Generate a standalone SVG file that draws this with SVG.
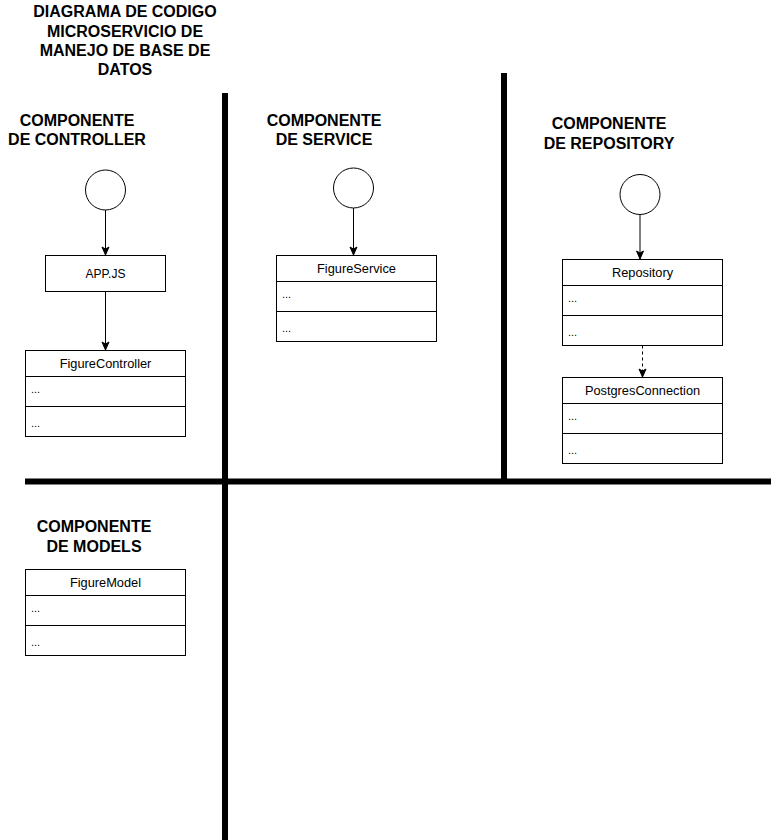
<svg xmlns="http://www.w3.org/2000/svg" width="771" height="840" viewBox="0 0 771 840">
<defs>
<style>
.t{font-family:"Liberation Sans",Arial,sans-serif;font-weight:bold;font-size:16px;fill:#000;text-anchor:middle}
.h{font-family:"Liberation Sans",Arial,sans-serif;font-size:12.8px;fill:#000;text-anchor:middle}
.d{font-family:"Liberation Sans",Arial,sans-serif;font-size:11px;fill:#000}
.box{fill:#fff;stroke:#000;stroke-width:1}
.sep{stroke:#000;stroke-width:1;fill:none}
.wall{stroke:#000;stroke-width:6;fill:none}
.edge{stroke:#000;stroke-width:1;fill:none}
</style>
<marker id="arr" markerUnits="userSpaceOnUse" markerWidth="10" markerHeight="10" refX="8" refY="3.5" orient="auto" overflow="visible">
<path d="M0,0 L8,3.5 L0,7 L2,3.5 Z" fill="#000" stroke="#000" stroke-width="1"/>
</marker>
</defs>
<rect width="771" height="840" fill="#fff"/>

<g id="title">
<text class="t" x="125" y="17">DIAGRAMA DE CODIGO</text>
<text class="t" x="125" y="36.5">MICROSERVICIO DE</text>
<text class="t" x="125" y="56">MANEJO DE BASE DE</text>
<text class="t" x="125" y="75">DATOS</text>
</g>

<g id="walls">
<line class="wall" x1="225" y1="93" x2="225" y2="840"/>
<line class="wall" x1="504" y1="73" x2="504" y2="481"/>
<line class="wall" x1="25" y1="481.5" x2="771" y2="481.5"/>
</g>

<g id="label-controller">
<text class="t" x="77" y="125.5">COMPONENTE</text>
<text class="t" x="77" y="145">DE CONTROLLER</text>
</g>
<g id="label-service">
<text class="t" x="324" y="125.5">COMPONENTE</text>
<text class="t" x="324" y="145">DE SERVICE</text>
</g>
<g id="label-repository">
<text class="t" x="609" y="129">COMPONENTE</text>
<text class="t" x="609" y="148.5">DE REPOSITORY</text>
</g>
<g id="label-models">
<text class="t" x="94" y="532">COMPONENTE</text>
<text class="t" x="94" y="551.5">DE MODELS</text>
</g>

<g id="start-controller"><circle class="box" cx="105.5" cy="190" r="20"/></g>
<g id="start-service"><circle class="box" cx="353.5" cy="188" r="20"/></g>
<g id="start-repository"><circle class="box" cx="640" cy="194.5" r="20"/></g>

<g id="appjs">
<rect class="box" x="45.5" y="255.5" width="120" height="36"/>
<text class="h" x="105.5" y="277.5" style="font-size:12px">APP.JS</text>
</g>

<g id="FigureController">
<rect class="box" x="25.5" y="350.5" width="160" height="86"/>
<line class="sep" x1="25.5" y1="376.5" x2="185.5" y2="376.5"/>
<line class="sep" x1="25.5" y1="406.5" x2="185.5" y2="406.5"/>
<text class="h" x="105.5" y="368">FigureController</text>
<text class="d" x="31" y="393">...</text>
<text class="d" x="31" y="427">...</text>
</g>

<g id="FigureService">
<rect class="box" x="276.5" y="255.5" width="160" height="86"/>
<line class="sep" x1="276.5" y1="281.5" x2="436.5" y2="281.5"/>
<line class="sep" x1="276.5" y1="311.5" x2="436.5" y2="311.5"/>
<text class="h" x="356.5" y="273">FigureService</text>
<text class="d" x="282" y="298">...</text>
<text class="d" x="282" y="332">...</text>
</g>

<g id="Repository">
<rect class="box" x="562.5" y="259.5" width="160" height="86"/>
<line class="sep" x1="562.5" y1="285.5" x2="722.5" y2="285.5"/>
<line class="sep" x1="562.5" y1="315.5" x2="722.5" y2="315.5"/>
<text class="h" x="642.5" y="277">Repository</text>
<text class="d" x="568" y="302">...</text>
<text class="d" x="568" y="336">...</text>
</g>

<g id="PostgresConnection">
<rect class="box" x="562.5" y="377.5" width="160" height="86"/>
<line class="sep" x1="562.5" y1="403.5" x2="722.5" y2="403.5"/>
<line class="sep" x1="562.5" y1="433.5" x2="722.5" y2="433.5"/>
<text class="h" x="642.5" y="395">PostgresConnection</text>
<text class="d" x="568" y="420">...</text>
<text class="d" x="568" y="454">...</text>
</g>

<g id="FigureModel">
<rect class="box" x="25.5" y="569.5" width="160" height="86"/>
<line class="sep" x1="25.5" y1="595.5" x2="185.5" y2="595.5"/>
<line class="sep" x1="25.5" y1="625.5" x2="185.5" y2="625.5"/>
<text class="h" x="105.5" y="587">FigureModel</text>
<text class="d" x="31" y="612">...</text>
<text class="d" x="31" y="646">...</text>
</g>

<g id="connectors">
<line class="edge" x1="105.5" y1="210" x2="105.5" y2="255" marker-end="url(#arr)"/>
<line class="edge" x1="105.5" y1="291.5" x2="105.5" y2="350" marker-end="url(#arr)"/>
<line class="edge" x1="353.5" y1="208" x2="353.5" y2="255" marker-end="url(#arr)"/>
<line class="edge" x1="640" y1="214.5" x2="640" y2="259" marker-end="url(#arr)"/>
<line class="edge" x1="642.5" y1="345.5" x2="642.5" y2="377" stroke-dasharray="3,3" marker-end="url(#arr)"/>
</g>
</svg>
